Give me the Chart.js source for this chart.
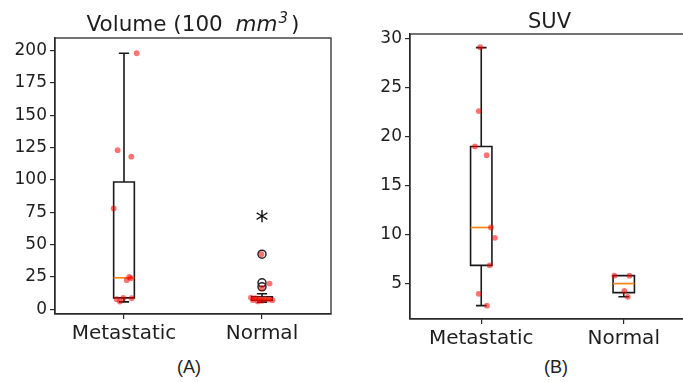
<!DOCTYPE html>
<html>
<head>
<meta charset="utf-8">
<script src="https://cdn.jsdelivr.net/npm/chart.js@4/dist/chart.umd.min.js"></script>
<style>
  html, body { margin: 0; padding: 0; background: #fff; width: 683px; height: 382px; overflow: hidden; position: relative; }
  #wa { position: absolute; left: 0; top: 0; width: 340px; height: 345px; }
  #wb { position: absolute; left: 340px; top: 0; width: 360px; height: 345px; }
  .cap { position: absolute; top: 356px; width: 60px; text-align: center; font-family: "Liberation Sans", "Open Sans", sans-serif; font-size: 18px; color: #222; line-height: 22px; }
</style>
</head>
<body>
<div id="wa"><canvas id="ca" width="340" height="345"></canvas></div>
<div id="wb"><canvas id="cb" width="360" height="345"></canvas></div>
<div class="cap" style="left:159px">(A)</div>
<div class="cap" style="left:526px">(B)</div>
<script>
// ---------- data ----------
const categories = ['Metastatic', 'Normal'];

// Panel A: Volume (100 mm^3)
const volTicks = [0, 25, 50, 75, 100, 125, 150, 175, 200];
const volWhiskLo = [5.7, 5.5];
const volQ1 = [8.8, 7.0];
const volMedian = [24.3, 8.0];
const volQ3 = [98.4, 9.6];
const volWhiskHi = [198, 12];
const volMetValues = [198, 123, 118, 78, 25, 24, 22.5, 8.7, 7.7, 8.5, 5.9];
const volMetJitter = [0.092, -0.046, 0.053, -0.075, 0.038, 0.05, 0.02, -0.005, -0.053, 0.055, -0.03];
const volNormValues = [42.6, 19.8, 16.4, 9.0, 8.5, 8.0, 8.0, 7.5, 7.0, 7.0, 6.5, 6.0];
const volNormJitter = [-0.005, 0.055, 0.0, -0.08, -0.05, -0.02, 0.02, 0.05, 0.075, -0.065, 0.0, -0.03];
const volNormFliers = [42.6, 20.4, 17.3];
const volStarValue = 70.5;

// Panel B: SUV
const suvTicks = [5, 10, 15, 20, 25, 30];
const suvWhiskLo = [2.8, 3.71];
const suvQ1 = [6.9, 4.12];
const suvMedian = [10.75, 5.04];
const suvQ3 = [19.0, 5.85];
const suvWhiskHi = [29.05, 5.85];
const suvMetValues = [29.1, 22.6, 19.0, 18.1, 10.75, 9.7, 6.9, 4.0, 2.8];
const suvMetJitter = [-0.007, -0.018, -0.044, 0.038, 0.068, 0.096, 0.059, -0.018, 0.04];
const suvNormValues = [5.85, 5.85, 4.3, 3.7];
const suvNormJitter = [-0.066, 0.04, 0.004, 0.028];

// ---------- styling ----------
const TXT = '#1e1e1e';
const FRAME = '#2a2a2a';
const FONT = "'DejaVu Sans', sans-serif";
Chart.defaults.font.family = FONT;
Chart.defaults.color = TXT;

const boxPlugin = {
  id: 'boxes',
  beforeDatasetsDraw(chart, args, opts) {
    const { ctx } = chart;
    const xs = chart.scales.x, ys = chart.scales.y;
    const half = 0.075, capHalf = 0.0375;
    ctx.save();
    ctx.lineWidth = 1.6;
    for (let i = 0; i < opts.q1.length; i++) {
      const c = i + 1;
      const xl = xs.getPixelForValue(c - half), xr = xs.getPixelForValue(c + half);
      const xc = xs.getPixelForValue(c);
      const cl = xs.getPixelForValue(c - capHalf), cr = xs.getPixelForValue(c + capHalf);
      const yq1 = ys.getPixelForValue(opts.q1[i]), yq3 = ys.getPixelForValue(opts.q3[i]);
      const ylo = ys.getPixelForValue(opts.lo[i]), yhi = ys.getPixelForValue(opts.hi[i]);
      const ym = ys.getPixelForValue(opts.med[i]);
      ctx.strokeStyle = '#1a1a1a';
      ctx.beginPath();
      ctx.rect(xl, yq3, xr - xl, yq1 - yq3);
      ctx.moveTo(xc, yq1); ctx.lineTo(xc, ylo);
      ctx.moveTo(cl, ylo); ctx.lineTo(cr, ylo);
      ctx.moveTo(xc, yq3); ctx.lineTo(xc, yhi);
      ctx.moveTo(cl, yhi); ctx.lineTo(cr, yhi);
      ctx.stroke();
      ctx.strokeStyle = '#ff7f0e';
      ctx.beginPath();
      ctx.moveTo(xl, ym); ctx.lineTo(xr, ym);
      ctx.stroke();
    }
    ctx.restore();
  },
  afterDraw(chart, args, opts) {
    const { ctx, chartArea: a } = chart;
    ctx.save();
    ctx.strokeStyle = FRAME;
    ctx.lineWidth = 1.3;
    ctx.strokeRect(a.left, a.top, a.right - a.left, a.bottom - a.top);
    // title
    ctx.fillStyle = TXT;
    ctx.textBaseline = 'alphabetic';
    const parts = opts.title;
    let total = 0;
    parts.forEach(p => { ctx.font = p.font; p.w = ctx.measureText(p.t).width + (p.gap || 0); total += p.w; });
    let x = (a.left + a.right) / 2 - total / 2 + (opts.titleShift || 0);
    parts.forEach(p => { ctx.font = p.font; ctx.fillText(p.t, x + (p.gap || 0), opts.titleY + (p.dy || 0)); x += p.w; });
    // star annotation
    if (opts.star) {
      ctx.font = '26px ' + FONT;
      ctx.textAlign = 'center';
      ctx.textBaseline = 'middle';
      ctx.fillStyle = '#111';
      ctx.fillText('*', chart.scales.x.getPixelForValue(opts.star.x), chart.scales.y.getPixelForValue(opts.star.y) + 5);
    }
    ctx.restore();
  }
};

function pts(values, jitter, cat) {
  return values.map((v, i) => ({ x: cat + jitter[i], y: v }));
}

function makeChart(id, cfg) {
  return new Chart(document.getElementById(id), {
    type: 'scatter',
    data: { datasets: cfg.datasets },
    plugins: [boxPlugin],
    options: {
      responsive: false,
      animation: false,
      events: [],
      layout: { padding: cfg.padding },
      plugins: {
        legend: { display: false },
        tooltip: { enabled: false },
        title: { display: false },
        boxes: cfg.boxes
      },
      scales: {
        x: {
          type: 'linear', min: 0.5, max: 2.5,
          afterFit(s) { s.height = cfg.xh; },
          afterBuildTicks(s) { s.ticks = categories.map((c, i) => ({ value: i + 1 })); },
          ticks: { autoSkip: false, maxRotation: 0, padding: 3, color: TXT, font: { size: 20 },
                   callback: (v) => categories[Math.round(v) - 1] },
          grid: { drawOnChartArea: false, drawTicks: true, tickLength: 5, tickColor: FRAME, lineWidth: 1.2 },
          border: { display: true, color: FRAME, width: 1.3 }
        },
        y: {
          type: 'linear', min: cfg.ymin, max: cfg.ymax,
          afterFit(s) { s.width = cfg.yw; },
          afterBuildTicks(s) { s.ticks = cfg.yticks.map(v => ({ value: v })); },
          ticks: { padding: 3, color: TXT, font: { size: 17 }, callback: (v) => String(v) },
          grid: { drawOnChartArea: false, drawTicks: true, tickLength: 5, tickColor: FRAME, lineWidth: 1.2 },
          border: { display: true, color: FRAME, width: 1.3 }
        }
      }
    }
  });
}

const RED = 'rgba(255,0,0,0.55)';

makeChart('ca', {
  padding: { top: 38, right: 9, left: 0, bottom: 0 },
  xh: 31, yw: 55, ymin: -3.7, ymax: 209.8, yticks: volTicks,
  boxes: {
    q1: volQ1, q3: volQ3, med: volMedian, lo: volWhiskLo, hi: volWhiskHi,
    titleY: 31,
    title: [
      { t: 'Volume (100 ', font: '21.5px ' + FONT },
      { t: 'mm', font: 'italic 21.5px ' + FONT, gap: 6 },
      { t: '3', font: 'italic 15px ' + FONT, dy: -8, gap: 1 },
      { t: ')', font: '21.5px ' + FONT, gap: 3 }
    ],
    star: { x: 2, y: volStarValue }
  },
  datasets: [
    { data: volNormFliers.map(v => ({ x: 2, y: v })), order: 2, pointRadius: 4,
      pointBackgroundColor: 'rgba(0,0,0,0)', pointBorderColor: '#222', pointBorderWidth: 1.5 },
    { data: pts(volMetValues, volMetJitter, 1).concat(pts(volNormValues, volNormJitter, 2)), order: 1,
      pointRadius: 2.9, pointBackgroundColor: RED, pointBorderWidth: 0, pointBorderColor: 'rgba(0,0,0,0)' }
  ]
});

makeChart('cb', {
  padding: { top: 34, right: 5, left: 0, bottom: 0 },
  xh: 26, yw: 70, ymin: 1.44, ymax: 30.44, yticks: suvTicks,
  boxes: {
    q1: suvQ1, q3: suvQ3, med: suvMedian, lo: suvWhiskLo, hi: suvWhiskHi,
    titleY: 28, titleShift: -3,
    title: [{ t: 'SUV', font: '21px ' + FONT }]
  },
  datasets: [
    { data: pts(suvMetValues, suvMetJitter, 1).concat(pts(suvNormValues, suvNormJitter, 2)), order: 1,
      pointRadius: 2.9, pointBackgroundColor: RED, pointBorderWidth: 0, pointBorderColor: 'rgba(0,0,0,0)' }
  ]
});
</script>
</body>
</html>
